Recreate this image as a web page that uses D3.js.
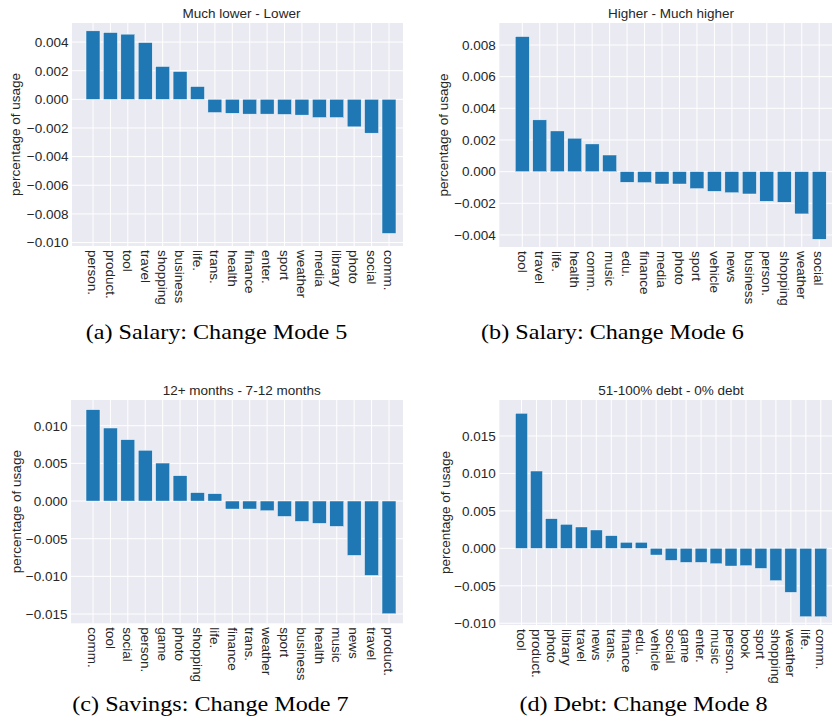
<!DOCTYPE html>
<html>
<head>
<meta charset="utf-8">
<script src="https://cdn.jsdelivr.net/npm/d3@7"></script>
<style>
  body { margin: 0; background: #fff; }
  svg { display: block; }
</style>
</head>
<body>
<svg id="chart" width="832" height="728"></svg>
<script>
// ---- data: category names, differences in share of usage, axis ticks ----
const catsA = ["person.", "product.", "tool", "travel", "shopping", "business", "life.", "trans.", "health",
  "finance", "enter.", "sport", "weather", "media", "library", "photo", "social", "comm."];
const valsA = [0.00478, 0.00466, 0.00455, 0.00396, 0.00229, 0.00194, 0.00089, -0.00092, -0.00097,
  -0.00103, -0.00103, -0.00105, -0.00110, -0.00127, -0.00127, -0.00192, -0.00236, -0.00936];
const ticksA = [0.004, 0.002, 0, -0.002, -0.004, -0.006, -0.008, -0.010];

const catsB = ["tool", "travel", "life.", "health", "comm.", "music", "edu.", "finance", "media",
  "photo", "sport", "vehicle", "news", "business", "person.", "shopping", "weather", "social"];
const valsB = [0.00853, 0.00327, 0.00257, 0.00211, 0.00175, 0.00105, -0.00067, -0.00069, -0.00078,
  -0.00078, -0.00107, -0.00124, -0.00133, -0.00141, -0.00187, -0.00193, -0.00267, -0.00427];
const ticksB = [0.008, 0.006, 0.004, 0.002, 0, -0.002, -0.004];

const catsC = ["comm.", "tool", "social", "person.", "game", "photo", "shopping", "life.", "finance",
  "trans.", "weather", "sport", "business", "health", "music", "news", "travel", "product."];
const valsC = [0.01212, 0.00969, 0.00814, 0.00673, 0.00504, 0.00336, 0.00111, 0.00097, -0.00106,
  -0.00106, -0.00128, -0.00204, -0.00270, -0.00296, -0.00336, -0.00721, -0.00987, -0.01496];
const ticksC = [0.010, 0.005, 0, -0.005, -0.010, -0.015];

const catsD = ["tool", "product.", "photo", "library", "travel", "news", "trans.", "finance", "edu.",
  "vehicle", "social", "game", "enter.", "music", "person.", "book", "sport", "shopping", "weather",
  "life.", "comm."];
const valsD = [0.01802, 0.01032, 0.00396, 0.00320, 0.00285, 0.00245, 0.00169, 0.00080, 0.00080,
  -0.00089, -0.00160, -0.00187, -0.00187, -0.00205, -0.00236, -0.00231, -0.00267, -0.00431, -0.00587,
  -0.00912, -0.00912];
const ticksD = [0.015, 0.010, 0.005, 0, -0.005, -0.010];

const titles = ["Much lower - Lower", "Higher - Much higher", "12+ months - 7-12 months", "51-100% debt - 0% debt"];
const captions = ["(a) Salary: Change Mode 5", "(b) Salary: Change Mode 6", "(c) Savings: Change Mode 7", "(d) Debt: Change Mode 8"];
const yLabel = "percentage of usage";

// ---- layout of the four sub-figures ----
const layout = [
  { left: 72,    right: 403, top: 23,  bottom: 246,   first: 93,    last: 389,   yMin: -0.01024, yMax: 0.00533,
    titleX: 241.5, titleY: 18,  ylabX: 15,    capX: 216.5, capY: 339 },
  { left: 499.3, right: 832, top: 23,  bottom: 247,   first: 522.3, last: 819.2, yMin: -0.00476, yMax: 0.00939,
    titleX: 671,   titleY: 18,  ylabX: 443.5, capX: 612.5, capY: 339 },
  { left: 71,    right: 403, top: 400, bottom: 623.3, first: 93,    last: 389,   yMin: -0.01623, yMax: 0.01341,
    titleX: 241.7, titleY: 395, ylabX: 16,    capX: 210.5, capY: 711 },
  { left: 499.3, right: 832, top: 400, bottom: 625,   first: 521.5, last: 820.8, yMin: -0.01023, yMax: 0.0198,
    titleX: 671,   titleY: 395, ylabX: 445,   capX: 643.5, capY: 711 }
];

const panels = [
  { cats: catsA, vals: valsA, ticks: ticksA },
  { cats: catsB, vals: valsB, ticks: ticksB },
  { cats: catsC, vals: valsC, ticks: ticksC },
  { cats: catsD, vals: valsD, ticks: ticksD }
];

const FONT = "'Liberation Sans', Arial, Helvetica, sans-serif";
const TEXT = "#262626";
const BG = "#EAEAF2";
const BAR = "#1f77b4";
const FS = 13.5;
const fmt = d3.format(".3f");

const svg = d3.select("#chart");

panels.forEach((p, i) => {
  const L = layout[i];
  const n = p.cats.length;
  const step = (L.last - L.first) / (n - 1);

  const x = d3.scaleBand()
    .domain(p.cats)
    .range([L.first - step / 2, L.last + step / 2])
    .paddingInner(0.2)
    .paddingOuter(0.1);
  const y = d3.scaleLinear().domain([L.yMin, L.yMax]).range([L.bottom, L.top]);

  const g = svg.append("g");

  // plotting area background
  g.append("rect")
    .attr("x", L.left).attr("y", L.top)
    .attr("width", L.right - L.left).attr("height", L.bottom - L.top)
    .attr("fill", BG);

  // white grid lines
  g.append("g").selectAll("line.h").data(p.ticks).join("line")
    .attr("x1", L.left).attr("x2", L.right)
    .attr("y1", d => y(d)).attr("y2", d => y(d))
    .attr("stroke", "#fff").attr("stroke-width", 1);
  g.append("g").selectAll("line.v").data(p.cats).join("line")
    .attr("x1", d => x(d) + x.bandwidth() / 2).attr("x2", d => x(d) + x.bandwidth() / 2)
    .attr("y1", L.top).attr("y2", L.bottom)
    .attr("stroke", "#fff").attr("stroke-width", 1);

  // bars
  g.append("g").selectAll("rect").data(p.cats.map((c, k) => ({ c, v: p.vals[k] }))).join("rect")
    .attr("x", d => x(d.c))
    .attr("width", x.bandwidth())
    .attr("y", d => y(Math.max(0, d.v)))
    .attr("height", d => Math.abs(y(d.v) - y(0)))
    .attr("fill", BAR)
    .attr("stroke", "#fff").attr("stroke-width", 0.4);

  // y axis (labels only, no domain line or tick marks)
  const yAxis = d3.axisLeft(y).tickValues(p.ticks).tickFormat(fmt).tickSize(0).tickPadding(3.5);
  const ya = g.append("g").attr("transform", `translate(${L.left},0)`).call(yAxis);
  ya.select(".domain").remove();
  ya.selectAll("text").attr("font-family", FONT).attr("font-size", FS).attr("fill", TEXT);

  // x axis, labels rotated to read downward
  const xAxis = d3.axisBottom(x).tickSize(0).tickPadding(0);
  const xa = g.append("g").attr("transform", `translate(0,${L.bottom})`).call(xAxis);
  xa.select(".domain").remove();
  xa.selectAll("text")
    .attr("font-family", FONT).attr("font-size", FS).attr("fill", TEXT)
    .attr("transform", "rotate(90)")
    .attr("x", 4).attr("y", 0).attr("dy", "0.35em")
    .attr("text-anchor", "start");

  // panel title
  g.append("text")
    .attr("x", L.titleX).attr("y", L.titleY)
    .attr("text-anchor", "middle")
    .attr("font-family", FONT).attr("font-size", FS).attr("fill", TEXT)
    .text(titles[i]);

  // y axis label
  const cy = (L.top + L.bottom) / 2;
  g.append("text")
    .attr("transform", `translate(${L.ylabX},${cy}) rotate(-90)`)
    .attr("dy", "0.35em")
    .attr("text-anchor", "middle")
    .attr("font-family", FONT).attr("font-size", FS).attr("fill", TEXT)
    .text(yLabel);

  // sub-figure caption, serif, slightly widened
  const cap = g.append("text")
    .attr("font-family", "'Liberation Serif', 'Times New Roman', serif")
    .attr("font-size", 21).attr("fill", "#000")
    .text(captions[i]);
  const w = cap.node().getComputedTextLength() * 1.15;
  cap.attr("x", L.capX - w / 2).attr("y", L.capY)
    .attr("textLength", w).attr("lengthAdjust", "spacingAndGlyphs");
});
</script>
</body>
</html>
